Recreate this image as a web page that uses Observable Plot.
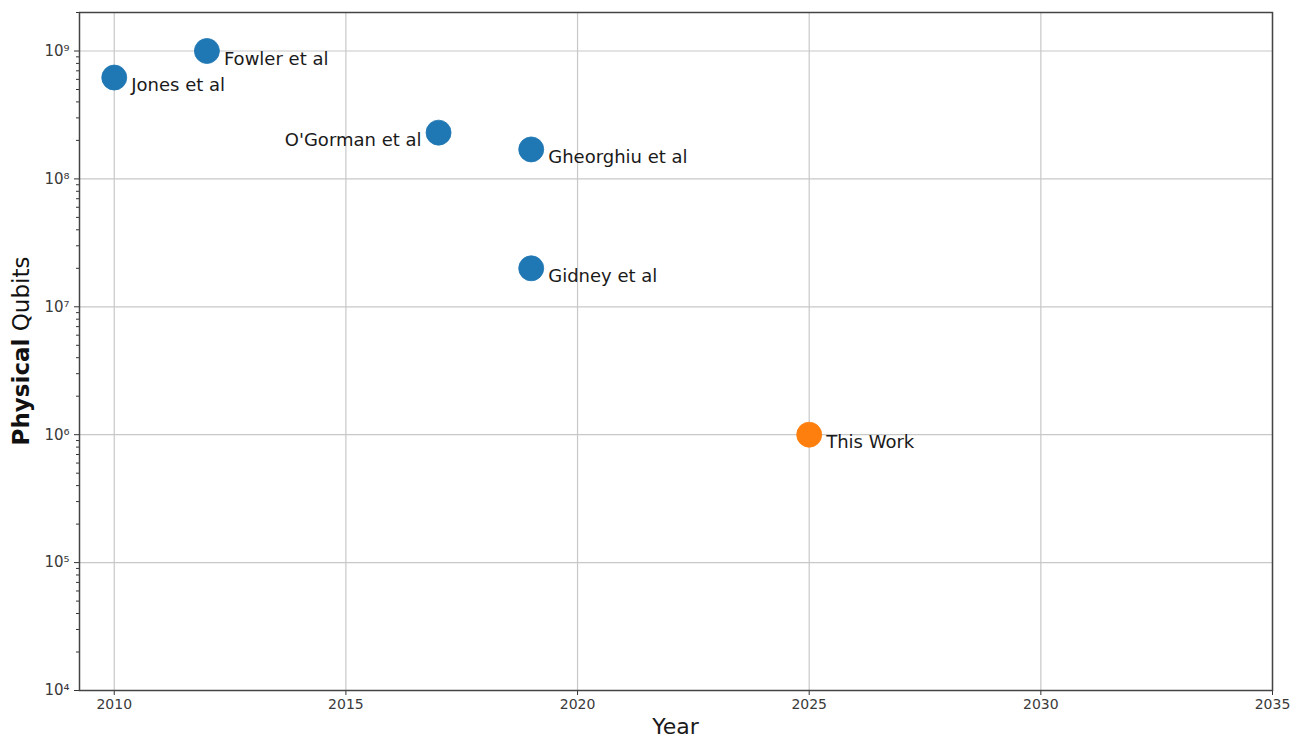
<!DOCTYPE html>
<html>
<head>
<meta charset="utf-8">
<script src="https://cdn.jsdelivr.net/npm/d3@7"></script>
<script src="https://cdn.jsdelivr.net/npm/@observablehq/plot@0.6"></script>
<style>
  html, body { margin: 0; padding: 0; background: #fff; }
  #chart { width: 1302px; height: 740px; overflow: hidden; }
</style>
</head>
<body>
<div id="chart"></div>
<script>
// ---- data ----
const names  = ["Jones et al", "Fowler et al", "O'Gorman et al", "Gheorghiu et al", "Gidney et al", "This Work"];
const years  = [2010, 2012, 2017, 2019, 2019, 2025];
const qubits = [6.2e8, 1.0e9, 2.3e8, 1.7e8, 2.0e7, 1.0e6];
const groups = ["Prior", "Prior", "Prior", "Prior", "Prior", "This Work"];
const leftLabelled = ["O'Gorman et al"];
const xTicks = [2010, 2015, 2020, 2025, 2030, 2035];
const yTicks = [1e4, 1e5, 1e6, 1e7, 1e8, 1e9];

const data = names.map((n, i) => ({name: n, year: years[i], qubits: qubits[i], group: groups[i]}));
const minorTicks = [];
for (let e = 4; e <= 9; e++) for (let m = 2; m <= 9; m++) { const v = m * 10 ** e; if (v <= 2e9) minorTicks.push(v); }

const sup = {"0":"⁰","1":"¹","2":"²","3":"³","4":"⁴","5":"⁵","6":"⁶","7":"⁷","8":"⁸","9":"⁹","-":"⁻"};
const fmtPow = v => "10" + String(Math.round(Math.log10(v))).split("").map(c => sup[c]).join("");

const font = "DejaVu Sans, sans-serif";

const chart = Plot.plot({
  width: 1302,
  height: 740,
  marginTop: 12,
  marginBottom: 50,
  marginLeft: 79,
  marginRight: 30,
  style: {fontFamily: font, background: "#fff"},
  x: {domain: [2009.25, 2035]},
  y: {type: "log", domain: [1e4, 2e9]},
  color: {domain: ["Prior", "This Work"], range: ["#1f77b4", "#ff7f0e"]},
  marks: [
    Plot.gridX(xTicks, {stroke: "#c8c8c8", strokeOpacity: 1, strokeWidth: 1.2}),
    Plot.gridY(yTicks, {stroke: "#c8c8c8", strokeOpacity: 1, strokeWidth: 1.2}),
    Plot.axisX({ticks: xTicks, tickFormat: d => String(d), tickSize: 5, tickPadding: 4, label: null, fontSize: 14, color: "#3a3a3a", stroke: "#333"}),
    Plot.axisY({ticks: yTicks, tickFormat: fmtPow, tickSize: 5, tickPadding: 5, label: null, fontSize: 15, color: "#3a3a3a", stroke: "#333"}),
    Plot.axisY({ticks: minorTicks, tickFormat: () => "", tickSize: 3, label: null, stroke: "#333"}),
    Plot.frame({stroke: "#444", strokeWidth: 1.5}),
    Plot.dot(data, {x: "year", y: "qubits", r: 12.5, fill: "group", stroke: "group", strokeWidth: 0.8}),
    Plot.text(data.filter(d => !leftLabelled.includes(d.name)), {x: "year", y: "qubits", text: "name", textAnchor: "start", dx: 17, dy: 8, fontSize: 18, fill: "#1a1a1a"}),
    Plot.text(data.filter(d => leftLabelled.includes(d.name)), {x: "year", y: "qubits", text: "name", textAnchor: "end", dx: -17, dy: 8, fontSize: 18, fill: "#1a1a1a"})
  ]
});

const svg = d3.select(chart);
// x axis title
svg.append("text")
  .attr("x", (79 + 1272) / 2)
  .attr("y", 734)
  .attr("text-anchor", "middle")
  .attr("font-family", font)
  .attr("font-size", 22)
  .attr("fill", "#1a1a1a")
  .text("Year");
// y axis title with bold "Physical"
const yl = svg.append("text")
  .attr("transform", "translate(29,351) rotate(-90)")
  .attr("text-anchor", "middle")
  .attr("font-family", font)
  .attr("font-size", 23)
  .attr("fill", "#111");
yl.append("tspan").attr("font-weight", "bold").text("Physical");
yl.append("tspan").text(" Qubits");

document.getElementById("chart").appendChild(chart);
</script>
</body>
</html>
